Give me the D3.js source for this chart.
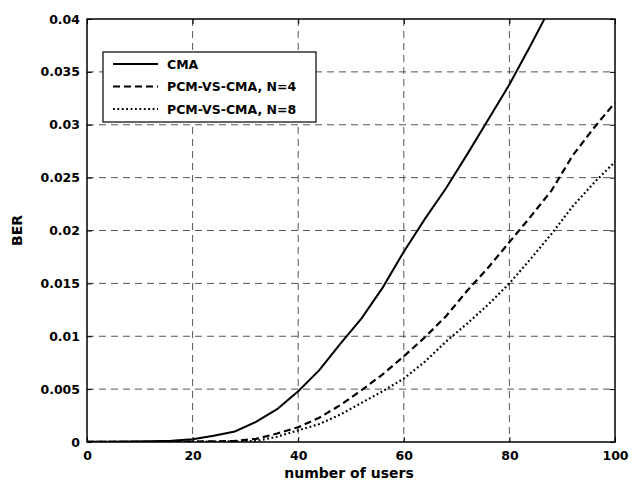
<!DOCTYPE html>
<html><head><meta charset="utf-8">
<script src="https://cdn.jsdelivr.net/npm/d3@7"></script>
<style>body{margin:0;background:#fff}svg{display:block}text{font-family:"DejaVu Sans",sans-serif;font-weight:bold}</style>
</head><body>
<svg id="c" width="639" height="481"></svg>
<script>
const users = [0,4,8,12,16,20,24,28,32,36,40,44,48,52,56,60,64,68,72,76,80,84,88,92,96,100];
const cma  = [0.00002,0.00003,0.00005,0.00008,0.00012,0.00025,0.0006,0.001,0.0019,0.0031,0.0048,0.0068,0.0093,0.0117,0.0146,0.0180,0.0211,0.0240,0.0272,0.0305,0.0338,0.0375,0.0413,0.046,0.051,0.056];
const pcm4 = [0.00001,0.00001,0.00001,0.00002,0.00003,0.00004,0.00006,0.0001,0.0003,0.0008,0.0014,0.0023,0.0035,0.0049,0.0064,0.0081,0.0099,0.0119,0.0143,0.0165,0.0189,0.0213,0.0238,0.0271,0.0297,0.0321];
const pcm8 = [0.00001,0.00001,0.00001,0.00001,0.00002,0.00003,0.00004,0.00006,0.0001,0.0005,0.0011,0.0017,0.0026,0.0037,0.0048,0.0060,0.0076,0.0095,0.0112,0.0130,0.0150,0.0173,0.0197,0.0223,0.0245,0.0265];
const seriesNames = ["CMA","PCM-VS-CMA, N=4","PCM-VS-CMA, N=8"];
const xTicks = [0,20,40,60,80,100];
const yTicks = [0,0.005,0.01,0.015,0.02,0.025,0.03,0.035,0.04];
const yTickLabels = ["0","0.005","0.01","0.015","0.02","0.025","0.03","0.035","0.04"];
const xLabel = "number of users", yLabel = "BER";

const L=87,R=615,T=19,B=442;
const svg=d3.select("#c");
const x=d3.scaleLinear().domain([0,100]).range([L,R]);
const y=d3.scaleLinear().domain([0,0.04]).range([B,T]);

// grid
const g=svg.append("g");
g.selectAll(".vg").data(xTicks.slice(1,-1)).join("line")
 .attr("x1",d=>x(d)).attr("x2",d=>x(d)).attr("y1",T).attr("y2",B)
 .attr("stroke","#555").attr("stroke-width",1).attr("stroke-dasharray","7,5");
g.selectAll(".hg").data(yTicks.slice(1,-1)).join("line")
 .attr("y1",d=>y(d)).attr("y2",d=>y(d)).attr("x1",L).attr("x2",R)
 .attr("stroke","#555").attr("stroke-width",1).attr("stroke-dasharray","7,5");

// axes
const xa=svg.append("g").attr("transform",`translate(0,${B})`)
 .call(d3.axisBottom(x).tickValues(xTicks).tickSizeInner(-5).tickSizeOuter(0).tickPadding(9));
const xt=svg.append("g").attr("transform",`translate(0,${T})`)
 .call(d3.axisTop(x).tickValues(xTicks).tickSizeInner(-5).tickSizeOuter(0).tickFormat(""));
const ya=svg.append("g").attr("transform",`translate(${L},0)`)
 .call(d3.axisLeft(y).tickValues(yTicks).tickFormat((d,i)=>yTickLabels[i]).tickSizeInner(-5).tickSizeOuter(0).tickPadding(7));
const yr=svg.append("g").attr("transform",`translate(${R},0)`)
 .call(d3.axisRight(y).tickValues(yTicks).tickSizeInner(-5).tickSizeOuter(0).tickFormat(""));
[xa,xt,ya,yr].forEach(a=>{a.select(".domain").remove();a.selectAll("line").attr("stroke","#000");
 a.selectAll("text").attr("font-size",12.5).attr("fill","#000").attr("font-family","DejaVu Sans, sans-serif").attr("font-weight","bold");});
svg.append("rect").attr("x",L).attr("y",T).attr("width",R-L).attr("height",B-T)
 .attr("fill","none").attr("stroke","#000").attr("stroke-width",1.5);

// clip
svg.append("clipPath").attr("id","clip").append("rect").attr("x",L).attr("y",T).attr("width",R-L).attr("height",B-T);
const line=d3.line().x(d=>x(d[0])).y(d=>y(d[1]));
const styles=[{dash:null,w:2},{dash:"7,4",w:2.2},{dash:"1.8,2.6",w:2.2}];
const sets=[cma,pcm4,pcm8];
const pl=svg.append("g").attr("clip-path","url(#clip)");
sets.forEach((s,i)=>{
 pl.append("path").datum(users.map((u,j)=>[u,s[j]])).attr("d",line)
  .attr("fill","none").attr("stroke","#000").attr("stroke-width",styles[i].w)
  .attr("stroke-dasharray",styles[i].dash);
});

// labels
svg.append("text").attr("x",349).attr("y",478).attr("text-anchor","middle").attr("font-size",14).text(xLabel);
svg.append("text").attr("transform",`translate(22,${(T+B)/2}) rotate(-90)`).attr("text-anchor","middle").attr("font-size",14).text(yLabel);

// legend
const lg=svg.append("g");
lg.append("rect").attr("x",103).attr("y",52).attr("width",213).attr("height",70).attr("fill","#fff").attr("stroke","#000").attr("stroke-width",1.2);
seriesNames.forEach((n,i)=>{
 const yy=64+i*22.5;
 lg.append("line").attr("x1",113).attr("x2",158).attr("y1",yy).attr("y2",yy).attr("stroke","#000")
  .attr("stroke-width",styles[i].w).attr("stroke-dasharray",styles[i].dash);
 lg.append("text").attr("x",167).attr("y",yy+4.5).attr("font-size",12.5).text(n);
});
</script>
</body></html>
